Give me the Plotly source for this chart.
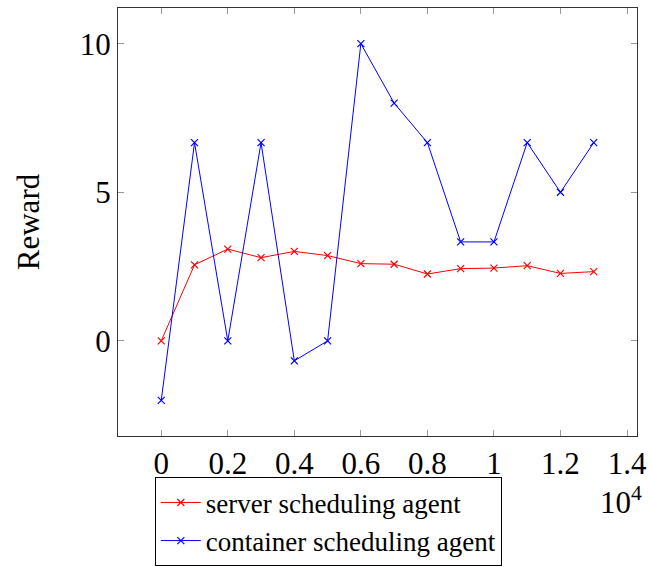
import plotly.graph_objects as go

steps = [0, 1000, 2000, 3000, 4000, 5000, 6000, 7000, 8000, 9000, 10000, 11000, 12000, 13000]
server_reward = [0, 2.56, 3.09, 2.80, 3.01, 2.87, 2.60, 2.58, 2.25, 2.43, 2.45, 2.53, 2.27, 2.33]
container_reward = [-2, 6.67, 0, 6.67, -0.67, 0, 10, 8, 6.67, 3.33, 3.33, 6.67, 5, 6.67]
x_tickvals = [0, 2000, 4000, 6000, 8000, 10000, 12000, 14000]
x_ticktext = ["0", "0.2", "0.4", "0.6", "0.8", "1", "1.2", "1.4"]
y_tickvals = [0, 5, 10]

FONT = "Liberation Serif"
FS = 31

fig = go.Figure()
fig.add_trace(go.Scatter(x=steps, y=server_reward, mode="lines+markers",
                         name="server scheduling agent",
                         line=dict(color="red", width=1),
                         marker=dict(symbol="x-thin", size=7, line=dict(color="red", width=1.2), color="red")))
fig.add_trace(go.Scatter(x=steps, y=container_reward, mode="lines+markers",
                         name="container scheduling agent",
                         line=dict(color="blue", width=1),
                         marker=dict(symbol="x-thin", size=7, line=dict(color="blue", width=1.2), color="blue")))

axis_common = dict(showgrid=False, zeroline=False, showline=True, linecolor="#333333", linewidth=1,
                   mirror="allticks", ticks="inside", ticklen=6, tickcolor="#999999", tickwidth=1,
                   automargin=False,
                   tickfont=dict(family=FONT, size=FS, color="black"))

fig.update_xaxes(range=[-1300, 14300], tickvals=x_tickvals, ticktext=x_ticktext, **axis_common)
fig.update_yaxes(range=[-3.2, 11.2], tickvals=y_tickvals, ticktext=[str(v) for v in y_tickvals],
                 title=dict(text="Reward", font=dict(family=FONT, size=FS, color="black"), standoff=30),
                 **axis_common)

fig.add_annotation(xref="paper", yref="paper", x=0.97, y=-0.1, xanchor="center", yanchor="top",
                   text="10<sup>4</sup>", showarrow=False, font=dict(family=FONT, size=FS, color="black"))

fig.update_layout(
    width=649, height=567,
    margin=dict(l=118, r=12, t=8, b=131),
    plot_bgcolor="white", paper_bgcolor="white",
    font=dict(family=FONT, color="black"),
    legend=dict(xref="paper", yref="container", x=0.071, y=0.158, xanchor="left", yanchor="top",
                bordercolor="black", borderwidth=1, bgcolor="white",
                font=dict(family=FONT, size=27, color="black"), tracegroupgap=0, itemwidth=40),
    showlegend=True,
)

fig.write_html("out.html")
